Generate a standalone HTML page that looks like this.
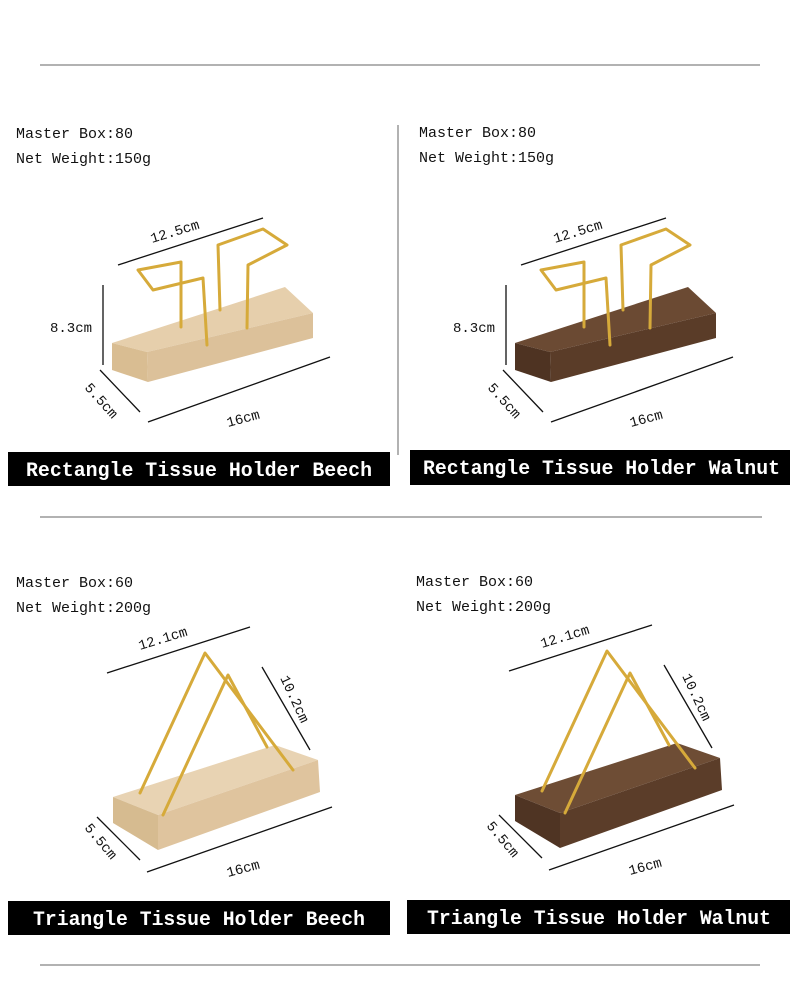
<!DOCTYPE html>
<html><head><meta charset="utf-8"><style>
body{margin:0;background:#fff;}
svg{display:block}
.t{font-family:"Liberation Mono",monospace;font-size:15px;fill:#111}
.d{font-family:"Liberation Mono",monospace;font-size:14px;fill:#111}
.b{font-family:"Liberation Mono",monospace;font-size:20px;font-weight:bold;fill:#fff}
.w{fill:none;stroke:#d6aa3a;stroke-width:3;stroke-linejoin:round;stroke-linecap:round}
.l{stroke:#111;stroke-width:1.3}
</style></head><body>
<svg width="800" height="1000" viewBox="0 0 800 1000">
<rect width="800" height="1000" fill="#fff"/>
<line x1="40" y1="65" x2="760" y2="65" stroke="#666" stroke-width="1"/>
<line x1="398" y1="125" x2="398" y2="455" stroke="#666" stroke-width="1"/>
<line x1="40" y1="517" x2="762" y2="517" stroke="#666" stroke-width="1"/>
<line x1="40" y1="965" x2="760" y2="965" stroke="#666" stroke-width="1"/>

<text class="t" x="16" y="138">Master Box:80</text>
<text class="t" x="16" y="163">Net Weight:150g</text>
<text class="t" x="419" y="137">Master Box:80</text>
<text class="t" x="419" y="162">Net Weight:150g</text>
<text class="t" x="16" y="587">Master Box:60</text>
<text class="t" x="16" y="612">Net Weight:200g</text>
<text class="t" x="416" y="586">Master Box:60</text>
<text class="t" x="416" y="611">Net Weight:200g</text>

<defs>
<g id="rect">
<line class="l" x1="118" y1="265" x2="263" y2="218"/>
<text class="d" x="152" y="243" transform="rotate(-17 152 243)">12.5cm</text>
<line class="l" x1="103" y1="285" x2="103" y2="365"/>
<text class="d" x="50" y="332">8.3cm</text>
<line class="l" x1="100" y1="370" x2="140" y2="412"/>
<text class="d" x="84" y="388" transform="rotate(48 84 388)">5.5cm</text>
<line class="l" x1="148" y1="422" x2="330" y2="357"/>
<text class="d" x="228" y="427" transform="rotate(-15 228 427)">16cm</text>
<polyline class="w" points="181,327 181,262 138,270 153,290 203,278 207,345"/>
<polyline class="w" points="220,310 218,245 263,229 287,245 248,265 247,328"/>
</g>
<g id="tri">
<line class="l" x1="107" y1="673" x2="250" y2="627"/>
<text class="d" x="140" y="650" transform="rotate(-17 140 650)">12.1cm</text>
<line class="l" x1="262" y1="667" x2="310" y2="750"/>
<text class="d" x="280" y="678" transform="rotate(65 280 678)">10.2cm</text>
<line class="l" x1="97" y1="817" x2="140" y2="860"/>
<text class="d" x="84" y="828" transform="rotate(50 84 828)">5.5cm</text>
<line class="l" x1="147" y1="872" x2="332" y2="807"/>
<text class="d" x="228" y="877" transform="rotate(-15 228 877)">16cm</text>
</g>
</defs>

<polygon points="112,343 285,287 313,313 147,352" fill="#e6cfac"/>
<polygon points="147,352 313,313 313,338 148,382" fill="#dcc19a"/>
<polygon points="112,343 147,352 148,382 112,370" fill="#d9bd92"/>
<use href="#rect"/>
<g transform="translate(403,0)">
<polygon points="112,343 285,287 313,313 147,352" fill="#6b4a33"/>
<polygon points="147,352 313,313 313,338 148,382" fill="#5a3c28"/>
<polygon points="112,343 147,352 148,382 112,370" fill="#4e3322"/>
<use href="#rect"/>
</g>
<polygon points="113,797 275,745 318,760 158,815" fill="#e8d3b3"/>
<polygon points="158,815 318,760 320,792 158,850" fill="#dfc49e"/>
<polygon points="113,797 158,815 158,850 113,823" fill="#d6bb90"/>
<polyline class="w" points="140,793 205,653 293,770"/>
<polyline class="w" points="163,815 228,675 267,747"/>
<use href="#tri"/>
<g transform="translate(402,-2)">
<polygon points="113,797 275,745 318,760 158,815" fill="#6e4d35"/>
<polygon points="158,815 318,760 320,792 158,850" fill="#5b3d29"/>
<polygon points="113,797 158,815 158,850 113,823" fill="#4f3423"/>
<polyline class="w" points="140,793 205,653 293,770"/>
<polyline class="w" points="163,815 228,675 267,747"/>
<use href="#tri"/>
</g>

<rect x="8" y="452" width="382" height="34" fill="#000"/>
<text class="b" x="26" y="476" textLength="346" lengthAdjust="spacingAndGlyphs">Rectangle Tissue Holder Beech</text>
<rect x="410" y="450" width="380" height="35" fill="#000"/>
<text class="b" x="423" y="474" textLength="357" lengthAdjust="spacingAndGlyphs">Rectangle Tissue Holder Walnut</text>
<rect x="8" y="901" width="382" height="34" fill="#000"/>
<text class="b" x="33" y="925" textLength="332" lengthAdjust="spacingAndGlyphs">Triangle Tissue Holder Beech</text>
<rect x="407" y="900" width="383" height="34" fill="#000"/>
<text class="b" x="427" y="924" textLength="344" lengthAdjust="spacingAndGlyphs">Triangle Tissue Holder Walnut</text>
</svg>
</body></html>
